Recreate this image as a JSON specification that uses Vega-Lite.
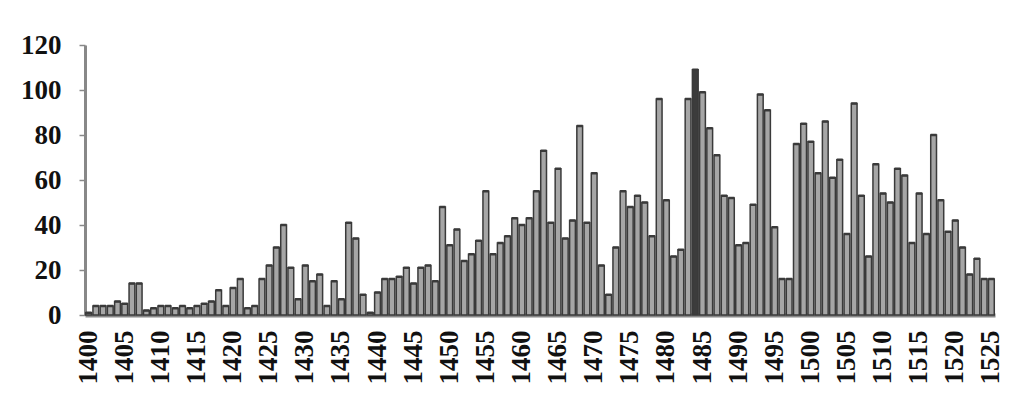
{
  "$schema": "https://vega.github.io/schema/vega-lite/v6.json",
  "width": 910,
  "height": 270,
  "autosize": {"type": "none"},
  "padding": {"left": 85, "top": 45, "right": 28, "bottom": 100},
  "background": "white",
  "config": {"view": {"stroke": null}},
  "data": {"values": [
    {"year":1400,"n":1},{"year":1401,"n":4},{"year":1402,"n":4},{"year":1403,"n":4},{"year":1404,"n":6},
    {"year":1405,"n":5},{"year":1406,"n":14},{"year":1407,"n":14},{"year":1408,"n":2},{"year":1409,"n":3},
    {"year":1410,"n":4},{"year":1411,"n":4},{"year":1412,"n":3},{"year":1413,"n":4},{"year":1414,"n":3},
    {"year":1415,"n":4},{"year":1416,"n":5},{"year":1417,"n":6},{"year":1418,"n":11},{"year":1419,"n":4},
    {"year":1420,"n":12},{"year":1421,"n":16},{"year":1422,"n":3},{"year":1423,"n":4},{"year":1424,"n":16},
    {"year":1425,"n":22},{"year":1426,"n":30},{"year":1427,"n":40},{"year":1428,"n":21},{"year":1429,"n":7},
    {"year":1430,"n":22},{"year":1431,"n":15},{"year":1432,"n":18},{"year":1433,"n":4},{"year":1434,"n":15},
    {"year":1435,"n":7},{"year":1436,"n":41},{"year":1437,"n":34},{"year":1438,"n":9},{"year":1439,"n":1},
    {"year":1440,"n":10},{"year":1441,"n":16},{"year":1442,"n":16},{"year":1443,"n":17},{"year":1444,"n":21},
    {"year":1445,"n":14},{"year":1446,"n":21},{"year":1447,"n":22},{"year":1448,"n":15},{"year":1449,"n":48},
    {"year":1450,"n":31},{"year":1451,"n":38},{"year":1452,"n":24},{"year":1453,"n":27},{"year":1454,"n":33},
    {"year":1455,"n":55},{"year":1456,"n":27},{"year":1457,"n":32},{"year":1458,"n":35},{"year":1459,"n":43},
    {"year":1460,"n":40},{"year":1461,"n":43},{"year":1462,"n":55},{"year":1463,"n":73},{"year":1464,"n":41},
    {"year":1465,"n":65},{"year":1466,"n":34},{"year":1467,"n":42},{"year":1468,"n":84},{"year":1469,"n":41},
    {"year":1470,"n":63},{"year":1471,"n":22},{"year":1472,"n":9},{"year":1473,"n":30},{"year":1474,"n":55},
    {"year":1475,"n":48},{"year":1476,"n":53},{"year":1477,"n":50},{"year":1478,"n":35},{"year":1479,"n":96},
    {"year":1480,"n":51},{"year":1481,"n":26},{"year":1482,"n":29},{"year":1483,"n":96},{"year":1484,"n":109},
    {"year":1485,"n":99},{"year":1486,"n":83},{"year":1487,"n":71},{"year":1488,"n":53},{"year":1489,"n":52},
    {"year":1490,"n":31},{"year":1491,"n":32},{"year":1492,"n":49},{"year":1493,"n":98},{"year":1494,"n":91},
    {"year":1495,"n":39},{"year":1496,"n":16},{"year":1497,"n":16},{"year":1498,"n":76},{"year":1499,"n":85},
    {"year":1500,"n":77},{"year":1501,"n":63},{"year":1502,"n":86},{"year":1503,"n":61},{"year":1504,"n":69},
    {"year":1505,"n":36},{"year":1506,"n":94},{"year":1507,"n":53},{"year":1508,"n":26},{"year":1509,"n":67},
    {"year":1510,"n":54},{"year":1511,"n":50},{"year":1512,"n":65},{"year":1513,"n":62},{"year":1514,"n":32},
    {"year":1515,"n":54},{"year":1516,"n":36},{"year":1517,"n":80},{"year":1518,"n":51},{"year":1519,"n":37},
    {"year":1520,"n":42},{"year":1521,"n":30},{"year":1522,"n":18},{"year":1523,"n":25},{"year":1524,"n":16},
    {"year":1525,"n":16}
  ]},
  "encoding": {
    "x": {
      "field": "year", "type": "ordinal",
      "scale": {"paddingInner": 0.2, "paddingOuter": 0.1},
      "axis": {
        "title": null,
        "values": [1400,1405,1410,1415,1420,1425,1430,1435,1440,1445,1450,1455,1460,1465,1470,1475,1480,1485,1490,1495,1500,1505,1510,1515,1520,1525],
        "labelAngle": -90,
        "labelFont": "Liberation Serif",
        "labelFontWeight": "bold",
        "labelFontSize": 27,
        "labelColor": "#111111",
        "labelPadding": 15,
        "ticks": false,
        "domainColor": "#888888",
        "domainWidth": 4
      }
    },
    "y": {
      "field": "n", "type": "quantitative",
      "scale": {"domain": [0, 120], "nice": false},
      "axis": {
        "title": null,
        "values": [0,20,40,60,80,100,120],
        "grid": false,
        "labelFont": "Liberation Serif",
        "labelFontWeight": "bold",
        "labelFontSize": 27,
        "labelColor": "#111111",
        "labelPadding": 18,
        "tickSize": 6,
        "tickColor": "#888888",
        "tickWidth": 1.5,
        "domainColor": "#888888",
        "domainWidth": 3
      }
    }
  },
  "layer": [
    {
      "mark": {"type": "bar", "stroke": "#3a3a3a", "strokeWidth": 1.5},
      "encoding": {
        "color": {
          "condition": {"test": "datum.year === 1484", "value": "#3c3c3c"},
          "value": "#a6a6a6"
        }
      }
    },
    {
      "mark": {"type": "tick", "thickness": 2.5, "color": "#3a3a3a", "size": 6, "opacity": 1},
      "encoding": {}
    }
  ]
}
